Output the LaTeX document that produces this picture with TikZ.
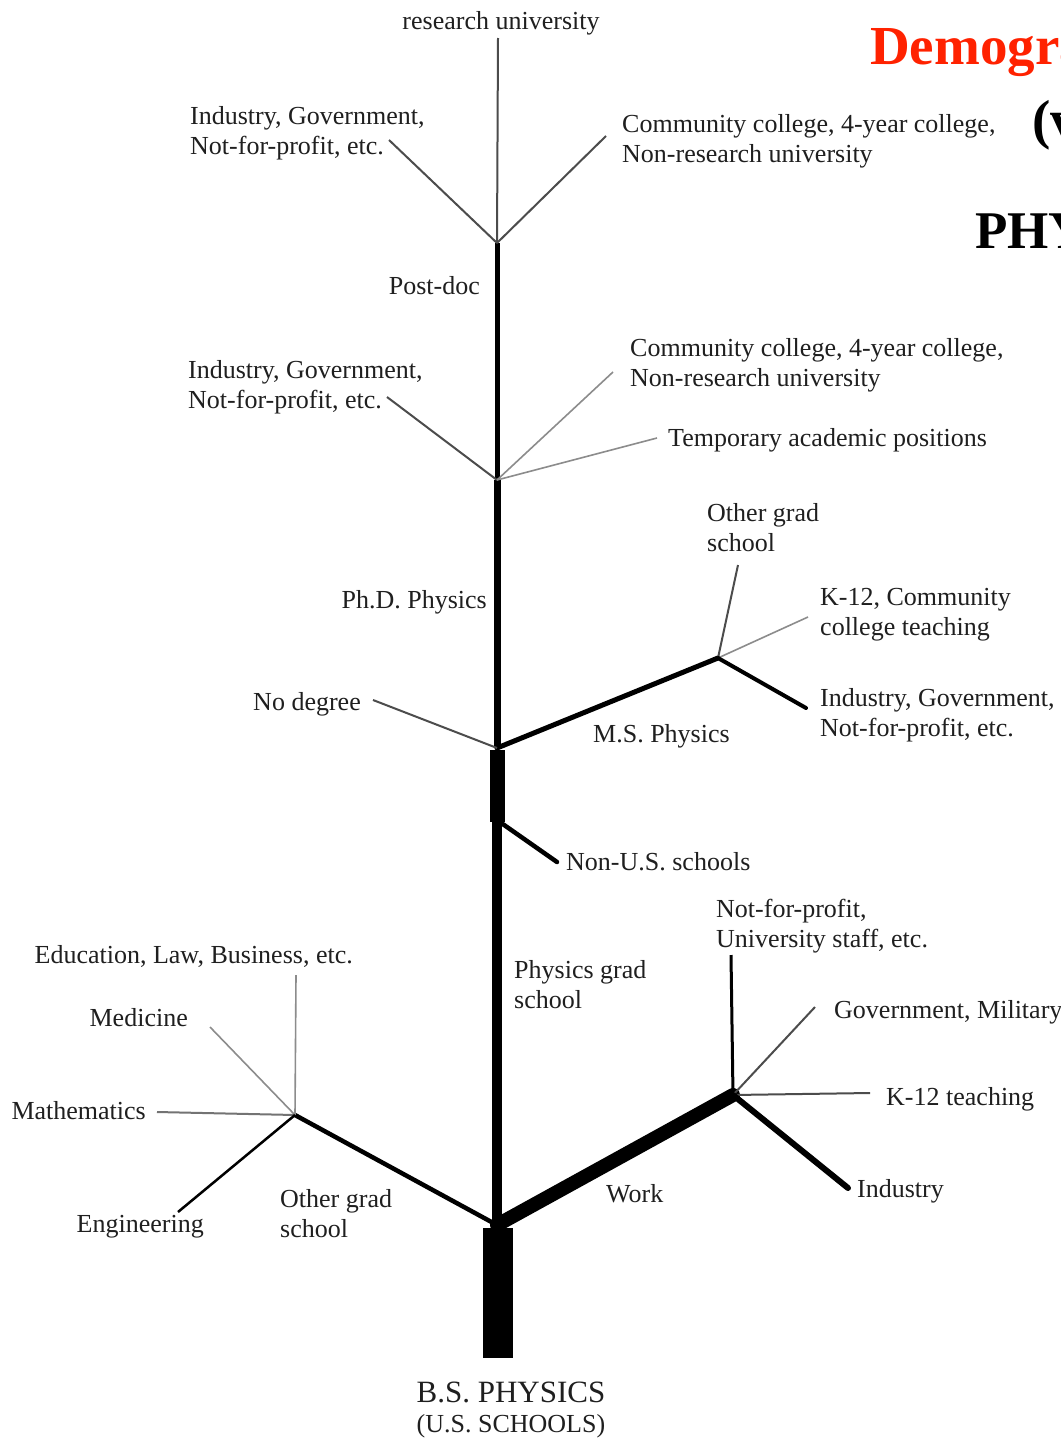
\documentclass[tikz,border=0pt]{standalone}
\usepackage{fontspec}
\setmainfont{Liberation Serif}
\begin{document}
\begin{tikzpicture}[x=1pt,y=-1pt,
  lab/.style={font=\fontsize{26}{30}\selectfont, inner sep=0pt, align=left, text=black!88},
  big/.style={font=\fontsize{55}{60}\selectfont\bfseries, inner sep=0pt},
  thin/.style={line width=2pt, draw=black!70},
  faint/.style={line width=1.6pt, draw=black!45},
  branch/.style={line width=#1, draw=black, line cap=round},
]
\useasboundingbox (0,0) rectangle (1060,1440);
\fill[white] (0,0) rectangle (1060,1440);
\clip (0,0) rectangle (1060,1440);

% junctions
\coordinate (j0) at (497,1225);
\coordinate (jwork) at (733,1095);
\coordinate (jog) at (295,1115);
\coordinate (jnus) at (497,820);
\coordinate (jms) at (497,748);
\coordinate (jmsj) at (718,658);
\coordinate (jphd) at (497,480);
\coordinate (jpd) at (497,243);
\coordinate (top) at (498,38);

% free ends
\coordinate (eNFP) at (731,955);
\coordinate (eGov) at (815,1007);
\coordinate (eK12) at (870,1093);
\coordinate (eInd) at (848,1188);
\coordinate (eEdu) at (296,975);
\coordinate (eMed) at (210,1027);
\coordinate (eMath) at (157,1112);
\coordinate (eEng) at (178,1212);
\coordinate (eNUS) at (557,862);
\coordinate (eNoDeg) at (373,700);
\coordinate (eOGms) at (738,565);
\coordinate (eK12c) at (808,617);
\coordinate (eInd3) at (806,708);
\coordinate (eInd2) at (387,397);
\coordinate (eComm2) at (613,372);
\coordinate (eTemp) at (657,438);
\coordinate (eInd1) at (389,140);
\coordinate (eComm1) at (606,136);

% trunk base
\fill[black] (483,1228) rectangle (513,1358);
\coordinate (base) at (498,1358);

% main trunk
\draw[line width=10pt] (j0) -- (jnus);
\fill[black] (490,750) rectangle (505,822);
\draw[line width=7pt] (jms) -- (jphd);
\draw[line width=5pt] (jphd) -- (jpd);
\draw[thin] (jpd) -- (top);

% main branches
\draw[branch=14pt] (j0) -- (jwork);
\draw[branch=4.5pt] (j0) -- (jog);
\draw[branch=4.5pt] (jnus) -- (eNUS);
\draw[branch=5pt] (jms) -- (jmsj);
\draw[thin] (jms) -- (eNoDeg);

% work
\draw[line width=3pt] (jwork) -- (eNFP);
\draw[thin] (jwork) -- (eGov);
\draw[thin] (jwork) -- (eK12);
\draw[branch=6pt] (jwork) -- (eInd);

% other grad school
\draw[faint] (jog) -- (eEdu);
\draw[faint] (jog) -- (eMed);
\draw[thin, draw=black!55] (jog) -- (eMath);
\draw[line width=2.5pt] (jog) -- (eEng);

% M.S.
\draw[thin] (jmsj) -- (eOGms);
\draw[faint] (jmsj) -- (eK12c);
\draw[branch=4pt] (jmsj) -- (eInd3);

% Ph.D.
\draw[thin] (jphd) -- (eInd2);
\draw[faint] (jphd) -- (eComm2);
\draw[faint] (jphd) -- (eTemp);

% post-doc
\draw[thin] (jpd) -- (eInd1);
\draw[thin] (jpd) -- (eComm1);

% labels (multi-line nodes: base = last line)
\node[lab, anchor=base] (ru) at (501,29) {research university};
\node[lab, anchor=base west] (ind1) at (190,154) {Industry, Government,\\Not-for-profit, etc.};
\node[lab, anchor=base west] (comm1) at (622,162) {Community college, 4-year college,\\Non-research university};
\node[lab, anchor=base east] (pd) at (480,294) {Post-doc};
\node[lab, anchor=base west] (ind2) at (188,408) {Industry, Government,\\Not-for-profit, etc.};
\node[lab, anchor=base west] (comm2) at (630,386) {Community college, 4-year college,\\Non-research university};
\node[lab, anchor=base west] (temp) at (668,446) {Temporary academic positions};
\node[lab, anchor=base west] (ogms) at (707,551) {Other grad\\school};
\node[lab, anchor=base east] (phd) at (487,608) {Ph.D. Physics};
\node[lab, anchor=base west] (k12c) at (820,635) {K-12, Community\\college teaching};
\node[lab, anchor=base east] (nodeg) at (361,710) {No degree};
\node[lab, anchor=base west] (ms) at (593,742) {M.S. Physics};
\node[lab, anchor=base west] (ind3) at (820,736) {Industry, Government,\\Not-for-profit, etc.};
\node[lab, anchor=base west] (nus) at (566,870) {Non-U.S. schools};
\node[lab, anchor=base west] (nfp) at (716,947) {Not-for-profit,\\University staff, etc.};
\node[lab, anchor=base east] (edu) at (353,963) {Education, Law, Business, etc.};
\node[lab, anchor=base west] (pgs) at (514,1008) {Physics grad\\school};
\node[lab, anchor=base east] (med) at (188,1026) {Medicine};
\node[lab, anchor=base west] (gov) at (834,1018) {Government, Military};
\node[lab, anchor=base east] (math) at (146,1119) {Mathematics};
\node[lab, anchor=base west] (k12) at (886,1105) {K-12 teaching};
\node[lab, anchor=base west] (ind) at (857,1197) {Industry};
\node[lab, anchor=base west] (work) at (606,1202) {Work};
\node[lab, anchor=base west] (ogs) at (280,1237) {Other grad\\school};
\node[lab, anchor=base east] (eng) at (204,1232) {Engineering};
\node[lab, anchor=base, font=\fontsize{31}{34}\selectfont] (bs) at (511,1402) {B.S. PHYSICS};
\node[lab, anchor=base, font=\fontsize{26}{30}\selectfont] (us) at (511,1432) {(U.S. SCHOOLS)};

% title fragments (cut by the right edge, as in the reference)
\node[big, anchor=base west, text={rgb,255:red,255;green,34;blue,0}] (title) at (870,64) {Demographics};
\node[big, anchor=base west] (sub) at (1032,138) {(v};
\node[big, anchor=base west, font=\fontsize{53}{60}\selectfont\bfseries] (phys) at (975,248) {PHYSICS};
\end{tikzpicture}
\end{document}
